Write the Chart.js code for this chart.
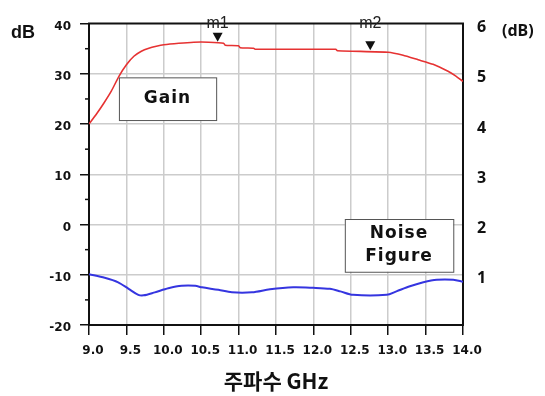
<!DOCTYPE html>
<html>
<head>
<meta charset="utf-8">
<script src="https://cdn.jsdelivr.net/npm/chart.js@4.4.0/dist/chart.umd.min.js"></script>
<style>
  html, body { margin: 0; padding: 0; background: #fff; }
</style>
</head>
<body>
<canvas id="chartCanvas" width="545" height="396"></canvas>
<script>
// Gain curve, left axis (dB)
const gainFreq = [9.0, 9.1, 9.2, 9.3, 9.4, 9.5, 9.6, 9.7, 9.8, 9.9, 10.0, 10.2, 10.4, 10.6, 10.8, 10.82, 11.0, 11.02, 11.2, 11.22, 12.3, 12.32, 13.0, 13.2, 13.4, 13.6, 13.8, 13.9, 14.0];
const gainDb   = [20.0, 22.0, 24.2, 26.6, 29.5, 31.8, 33.5, 34.5, 35.1, 35.5, 35.8, 36.1, 36.3, 36.3, 36.1, 35.7, 35.6, 35.2, 35.1, 34.9, 34.9, 34.6, 34.3, 33.7, 32.8, 31.9, 30.5, 29.6, 28.5];

// Noise figure curve, right axis (dB)
const nfFreq = [9.0, 9.21, 9.39, 9.53, 9.66, 9.73, 9.88, 10.06, 10.24, 10.42, 10.51, 10.73, 10.91, 11.18, 11.42, 11.73, 12.0, 12.22, 12.36, 12.53, 12.98, 13.11, 13.29, 13.47, 13.65, 13.87, 14.0];
const nfDb   = [1.01, 0.94, 0.85, 0.72, 0.60, 0.59, 0.65, 0.73, 0.78, 0.78, 0.75, 0.70, 0.65, 0.65, 0.71, 0.75, 0.74, 0.72, 0.67, 0.60, 0.60, 0.67, 0.77, 0.85, 0.90, 0.90, 0.86];

// Markers on the gain curve
const markerNames = ['m1', 'm2'];
const markerFreq = [10.72, 12.76];
const markerGain = [36.2, 34.5];

// Text boxes
const boxTexts = [['Gain'], ['Noise', 'Figure']];

const AXIS = '#111';
const GRID = '#cccccc';

// Boxes, markers, frame top, unit labels, minor ticks
const overlayPlugin = {
  id: 'overlay',
  afterDraw(chart) {
    const { ctx, chartArea: a, scales } = chart;
    const x = scales.x, y = scales.y;
    ctx.save();

    // top frame line
    ctx.strokeStyle = AXIS;
    ctx.lineWidth = 2;
    ctx.beginPath();
    ctx.moveTo(a.left - 1, a.top);
    ctx.lineTo(a.right + 1, a.top);
    ctx.stroke();

    // short minor ticks on the left axis
    ctx.lineWidth = 1.5;
    y.ticks.forEach(t => {
      if (t.value % 10 !== 0) {
        const py = y.getPixelForValue(t.value);
        ctx.beginPath();
        ctx.moveTo(a.left - 4, py);
        ctx.lineTo(a.left, py);
        ctx.stroke();
      }
    });

    // text boxes (placed in left-axis units)
    const boxPos = [
      { x0: 9.40, x1: 10.70, y0: 29.3, y1: 20.8 },
      { x0: 12.42, x1: 13.87, y0: 1.1, y1: -9.4 }
    ];
    boxTexts.forEach((lines, i) => {
      const b = boxPos[i];
      const left = x.getPixelForValue(b.x0), right = x.getPixelForValue(b.x1);
      const top = y.getPixelForValue(b.y0), bottom = y.getPixelForValue(b.y1);
      ctx.fillStyle = '#fff';
      ctx.fillRect(left, top, right - left, bottom - top);
      ctx.strokeStyle = '#555';
      ctx.lineWidth = 1;
      ctx.strokeRect(left + 0.5, top + 0.5, right - left, bottom - top);
      ctx.fillStyle = AXIS;
      ctx.font = 'bold 17px "DejaVu Sans"';
      ctx.letterSpacing = '1px';
      ctx.textAlign = 'center';
      ctx.textBaseline = 'middle';
      const cx = (left + right) / 2, cy = (top + bottom) / 2;
      const gap = 23;
      lines.forEach((s, k) => {
        ctx.fillText(s, cx, cy + (k - (lines.length - 1) / 2) * gap);
      });
      ctx.letterSpacing = '0px';
    });

    // markers m1, m2
    markerNames.forEach((name, i) => {
      const px = x.getPixelForValue(markerFreq[i]);
      const py = y.getPixelForValue(markerGain[i]);
      ctx.fillStyle = AXIS;
      ctx.beginPath();
      ctx.moveTo(px - 5, py - 10);
      ctx.lineTo(px + 5, py - 10);
      ctx.lineTo(px, py - 1);
      ctx.closePath();
      ctx.fill();
      ctx.font = '16px "Liberation Sans Narrow", "Liberation Sans"';
      ctx.textAlign = 'center';
      ctx.textBaseline = 'middle';
      ctx.fillStyle = '#222';
      ctx.fillText(name, px, a.top);
    });

    // unit labels
    ctx.fillStyle = AXIS;
    ctx.textBaseline = 'middle';
    ctx.textAlign = 'left';
    ctx.font = 'bold 18px "Liberation Sans"';
    ctx.fillText('dB', 11, a.top + 9);
    ctx.font = 'bold 16px "Noto Sans"';
    ctx.fillText('(dB)', 502, a.top + 8);

    ctx.restore();
  }
};

const chartConfig = {
  type: 'line',
  data: {
    datasets: [
      {
        label: 'Gain',
        data: gainFreq.map((f, i) => ({ x: f, y: gainDb[i] })),
        yAxisID: 'y',
        borderColor: '#e63232',
        borderWidth: 1.6,
        pointRadius: 0,
        tension: 0.15
      },
      {
        label: 'Noise Figure',
        data: nfFreq.map((f, i) => ({ x: f, y: nfDb[i] })),
        yAxisID: 'y2',
        borderColor: '#3535e0',
        borderWidth: 2,
        pointRadius: 0,
        tension: 0.3
      }
    ]
  },
  options: {
    responsive: false,
    animation: false,
    layout: { padding: { top: 18, left: 0, right: 0, bottom: 0 } },
    plugins: { legend: { display: false }, tooltip: { enabled: false } },
    scales: {
      x: {
        type: 'linear',
        min: 9,
        max: 14,
        ticks: {
          stepSize: 0.5,
          autoSkip: false,
          maxRotation: 0,
          labelOffset: 4,
          padding: 9,
          color: AXIS,
          font: { family: 'DejaVu Sans', weight: 'bold', size: 12 },
          callback: v => v.toFixed(1)
        },
        grid: {
          color: c => (c.tick && (c.tick.value === 9 || c.tick.value === 14)) ? 'transparent' : GRID,
          lineWidth: 1.5,
          tickColor: AXIS,
          tickLength: 10,
          tickWidth: 1.5
        },
        border: { color: AXIS, width: 2 },
        title: {
          display: true,
          text: '주파수 GHz',
          color: AXIS,
          font: { family: 'Noto Sans CJK KR', weight: 'bold', size: 21 },
          padding: { top: 0, bottom: 2 }
        },
        afterFit: s => { s.height = 71; }
      },
      y: {
        position: 'left',
        min: -20,
        max: 40,
        ticks: {
          stepSize: 5,
          padding: 9,
          labelOffset: 3,
          color: AXIS,
          font: { family: 'DejaVu Sans', weight: 'bold', size: 12 },
          callback: v => (v % 10 === 0 ? v : '')
        },
        grid: {
          color: c => (c.tick && c.tick.value % 10 === 0 && c.tick.value !== 40 && c.tick.value !== -20) ? GRID : 'transparent',
          lineWidth: 1.5,
          tickColor: c => (c.tick && c.tick.value % 10 === 0) ? AXIS : 'transparent',
          tickLength: 9,
          tickWidth: 1.5
        },
        border: { color: AXIS, width: 2 },
        afterFit: s => { s.width = 89; }
      },
      y2: {
        position: 'right',
        min: 0,
        max: 6,
        ticks: {
          stepSize: 1,
          padding: 14,
          labelOffset: 4,
          color: AXIS,
          font: { family: 'Noto Sans', weight: 'bold', size: 16 },
          callback: v => (v === 0 ? '' : v)
        },
        grid: { drawOnChartArea: false, drawTicks: false },
        border: { color: AXIS, width: 2 },
        afterFit: s => { s.width = 82; }
      }
    }
  },
  plugins: [overlayPlugin]
};

const chartCanvas = document.getElementById('chartCanvas');
const chartContext = chartCanvas.getContext('2d');
const gainChart = new Chart(chartContext, chartConfig);
</script>
</body>
</html>
